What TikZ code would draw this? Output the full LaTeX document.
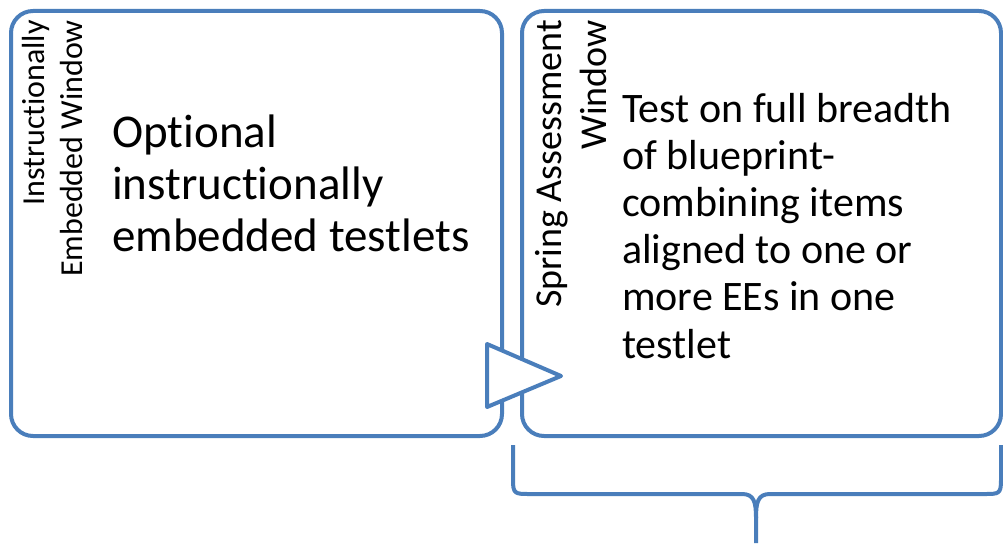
\documentclass[tikz,border=0pt]{standalone}
\usepackage{fontspec}
\setmainfont{Carlito}[Ligatures=NoCommon]
\definecolor{sablue}{RGB}{74,126,187}
\begin{document}
\begin{tikzpicture}[x=1pt,y=-1pt,
  panel/.style={draw=sablue,line width=4pt,rounded corners=22pt,fill=white},
  sidelabel/.style={rotate=90,align=right,inner sep=0pt,text=black},
  bodytext/.style={align=left,inner sep=0pt,anchor=base west,text=black},
  link/.style={draw=sablue,line width=4pt,line join=round,fill=white},
  bracket/.style={draw=sablue,line width=4pt}]
\useasboundingbox (0,0) rectangle (1003,543);
% panels
\draw[panel] (11,11) rectangle (502,436);
\draw[panel] (522,11) rectangle (1001,436);
% side labels
\node[sidelabel,anchor=north east,font=\fontsize{32}{38}\selectfont] (lside) at (22,20) {Instructionally\\Embedded Window};
\node[sidelabel,anchor=north east,font=\fontsize{38}{45}\selectfont] (rside) at (535,20) {Spring Assessment\\Window};
% body texts (anchored at the baseline of the last line)
\node[bodytext,font=\fontsize{47}{52}\selectfont] (ltext) at (112,251) {Optional\\instructionally\\embedded testlets};
\node[bodytext,font=\fontsize{42}{47.2}\selectfont] (rtext) at (622,358) {Test on full breadth\\of blueprint-\\combining items\\aligned to one or\\more EEs in one\\testlet};
% arrow between panels
\coordinate (ta) at (487,344);
\coordinate (tb) at (487,407);
\coordinate (tc) at (561,376);
\draw[link] (ta) -- (tc) -- (tb) -- cycle;
% brace
\coordinate (bl) at (513,445);
\coordinate (br) at (1001,445);
\coordinate (bm) at (756,543);
\draw[bracket] (bl) -- (513,480) .. controls (513,494) and (515,494) .. (530,494) -- (742,494)
  .. controls (754,494) and (756,502) .. (756,518) -- (bm);
\draw[bracket] (br) -- (1001,480) .. controls (1001,494) and (999,494) .. (984,494) -- (770,494)
  .. controls (758,494) and (756,502) .. (756,518);
\end{tikzpicture}
\end{document}
